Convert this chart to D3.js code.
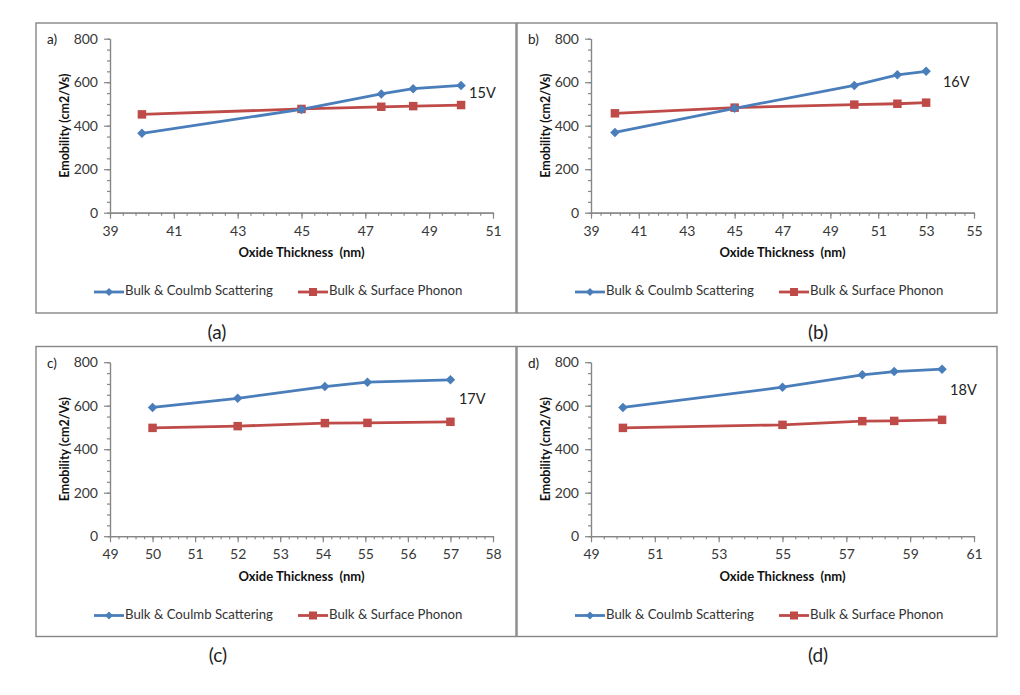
<!DOCTYPE html>
<html>
<head>
<meta charset="utf-8">
<script src="https://cdn.jsdelivr.net/npm/d3@7"></script>
<style>
  body { margin: 0; background: #fff; }
  text { font-family: Lato, "Noto Sans", sans-serif; }
</style>
</head>
<body>
<svg id="chart"></svg>
<script>
// chart values
const panelLabels = ["a)", "b)", "c)", "d)"];
const captions = ["(a)", "(b)", "(c)", "(d)"];
const voltages = ["15V", "16V", "17V", "18V"];
const seriesNames = ["Bulk & Coulmb Scattering", "Bulk & Surface Phonon"];
const yTickLabels = [0, 200, 400, 600, 800];

const thicknessA = [40, 45, 47.5, 48.5, 50];
const coulombA = [365, 475, 546, 570, 585];
const phononA = [452, 477, 487, 490, 495];

const thicknessB = [40, 45, 50, 51.8, 53];
const coulombB = [369, 480, 585, 634, 650];
const phononB = [457, 483, 497, 501, 506];

const thicknessC = [50, 52, 54.05, 55.05, 57];
const coulombC = [592, 634, 688, 708, 719];
const phononC = [498, 506, 520, 521, 526];

const thicknessD = [50, 55, 57.5, 58.5, 60];
const coulombD = [592, 685, 742, 757, 768];
const phononD = [498, 512, 529, 530, 535];

const xDomains = [[39, 51], [39, 55], [49, 58], [49, 61]];
const xMajorSteps = [2, 2, 1, 2];
const xMinorSteps = [0.4, 0.4, 0.2, 0.4];
// where the voltage note sits, in data units
const voltageLabelAt = [[50.25, 546], [53.7, 596], [57.2, 626], [60.25, 667]];

const W = 1020, H = 695;
const BLUE = "#4a7ebb", RED = "#be4b48", AXIS = "#868686";

const svg = d3.select("#chart").attr("width", W).attr("height", H);
svg.append("rect").attr("width", W).attr("height", H).attr("fill", "#fff");

const panels = [
  { x: thicknessA, blue: coulombA, red: phononA },
  { x: thicknessB, blue: coulombB, red: phononB },
  { x: thicknessC, blue: coulombC, red: phononC },
  { x: thicknessD, blue: coulombD, red: phononD }
].map((p, i) => Object.assign(p, {
  label: panelLabels[i], caption: captions[i], volt: voltages[i], voltAt: voltageLabelAt[i],
  domain: xDomains[i], step: xMajorSteps[i], minor: xMinorSteps[i]
}));

// layout
const origins = [[36, 23], [517, 23], [36, 346.5], [517, 346.5]];
const captionX = [181, 301, 182, 301];
const boxW = 480, boxH = 290;
const plot = { left: 74, right: 457, top: 15.7, bottom: 189.7 };

// Excel style diamond (square turned 45deg)
const diamond = {
  draw(ctx, size) {
    const r = Math.sqrt(size / 2);
    ctx.moveTo(0, -r); ctx.lineTo(r, 0); ctx.lineTo(0, r); ctx.lineTo(-r, 0); ctx.closePath();
  }
};

function steps(lo, hi, st) {
  const n = Math.round((hi - lo) / st);
  return d3.range(0, n + 1).map(k => +(lo + k * st).toFixed(4));
}

panels.forEach((p, i) => {
  const g = svg.append("g").attr("transform", `translate(${origins[i][0]},${origins[i][1]})`);

  g.append("rect")
    .attr("width", boxW).attr("height", boxH)
    .attr("fill", "none").attr("stroke", AXIS).attr("stroke-width", 1.4);

  const x = d3.scaleLinear().domain(p.domain).range([plot.left, plot.right]);
  const y = d3.scaleLinear().domain([0, 800]).range([plot.bottom, plot.top]);

  // minor ticks first
  const gxMinor = g.append("g").attr("transform", `translate(0,${y(0)})`)
    .call(d3.axisBottom(x).tickValues(steps(p.domain[0], p.domain[1], p.minor)).tickSize(3).tickSizeOuter(0).tickFormat(""));
  const gyMinor = g.append("g").attr("transform", `translate(${x(p.domain[0])},0)`)
    .call(d3.axisLeft(y).tickValues(steps(0, 800, 50)).tickSize(3).tickSizeOuter(0).tickFormat(""));

  const gx = g.append("g").attr("transform", `translate(0,${y(0)})`)
    .call(d3.axisBottom(x).tickValues(steps(p.domain[0], p.domain[1], p.step)).tickSize(6).tickSizeOuter(0).tickPadding(7).tickFormat(d3.format("d")));
  const gy = g.append("g").attr("transform", `translate(${x(p.domain[0])},0)`)
    .call(d3.axisLeft(y).tickValues(yTickLabels).tickSize(6).tickSizeOuter(0).tickPadding(6));

  [gxMinor, gyMinor, gx, gy].forEach(a => {
    a.selectAll("path, line").attr("stroke", AXIS).attr("stroke-width", 1.2);
    a.selectAll("text").attr("fill", "#383838").style("font-size", "14px");
  });

  // axis titles
  g.append("text")
    .attr("x", (plot.left + plot.right) / 2).attr("y", 234)
    .attr("text-anchor", "middle").style("font-size", "13px").style("font-weight", "bold")
    .attr("fill", "#111").attr("xml:space", "preserve")
    .text("Oxide Thickness  (nm)");
  g.append("text")
    .attr("transform", `translate(33,${(plot.top + plot.bottom) / 2}) rotate(-90)`)
    .attr("text-anchor", "middle").style("font-size", "12.5px").style("font-weight", "bold")
    .attr("fill", "#111")
    .text("Emobility (cm2/Vs)");

  // panel letter
  g.append("text").attr("x", 11).attr("y", 21).style("font-size", "13.5px").attr("fill", "#222").text(p.label);

  // series
  const line = d3.line().x(d => x(d[0])).y(d => y(d[1]));
  const blueData = p.x.map((v, k) => [v, p.blue[k]]);
  const redData = p.x.map((v, k) => [v, p.red[k]]);

  g.append("path").datum(redData).attr("d", line)
    .attr("fill", "none").attr("stroke", RED).attr("stroke-width", 2.8);
  g.append("path").datum(blueData).attr("d", line)
    .attr("fill", "none").attr("stroke", BLUE).attr("stroke-width", 2.8);

  g.selectAll(".sq").data(redData).join("path").attr("class", "sq")
    .attr("transform", d => `translate(${x(d[0])},${y(d[1])})`)
    .attr("d", d3.symbol(d3.symbolSquare, 72)).attr("fill", RED);
  g.selectAll(".dm").data(blueData).join("path").attr("class", "dm")
    .attr("transform", d => `translate(${x(d[0])},${y(d[1])})`)
    .attr("d", d3.symbol(diamond, 45)).attr("fill", BLUE);

  // voltage note
  g.append("text")
    .attr("x", x(p.voltAt[0])).attr("y", y(p.voltAt[1]))
    .attr("dominant-baseline", "middle")
    .style("font-size", "14.5px").attr("fill", "#222")
    .text(p.volt);

  // legend
  const legY = 269;
  const leg = [
    { x0: 58, color: BLUE, sym: d3.symbol(diamond, 32), name: seriesNames[0] },
    { x0: 262, color: RED, sym: d3.symbol(d3.symbolSquare, 64), name: seriesNames[1] }
  ];
  leg.forEach(l => {
    g.append("line").attr("x1", l.x0).attr("x2", l.x0 + 30).attr("y1", legY).attr("y2", legY)
      .attr("stroke", l.color).attr("stroke-width", 2.8);
    g.append("path").attr("transform", `translate(${l.x0 + 15},${legY})`).attr("d", l.sym).attr("fill", l.color);
    g.append("text").attr("x", l.x0 + 31).attr("y", legY).attr("dominant-baseline", "middle")
      .style("font-size", "13.2px").attr("fill", "#333").text(l.name);
  });

  // caption under the panel
  g.append("text").attr("x", captionX[i]).attr("y", 311).attr("dominant-baseline", "middle")
    .attr("text-anchor", "middle").style("font-size", "19px").attr("fill", "#222")
    .text(p.caption);
});
</script>
</body>
</html>
